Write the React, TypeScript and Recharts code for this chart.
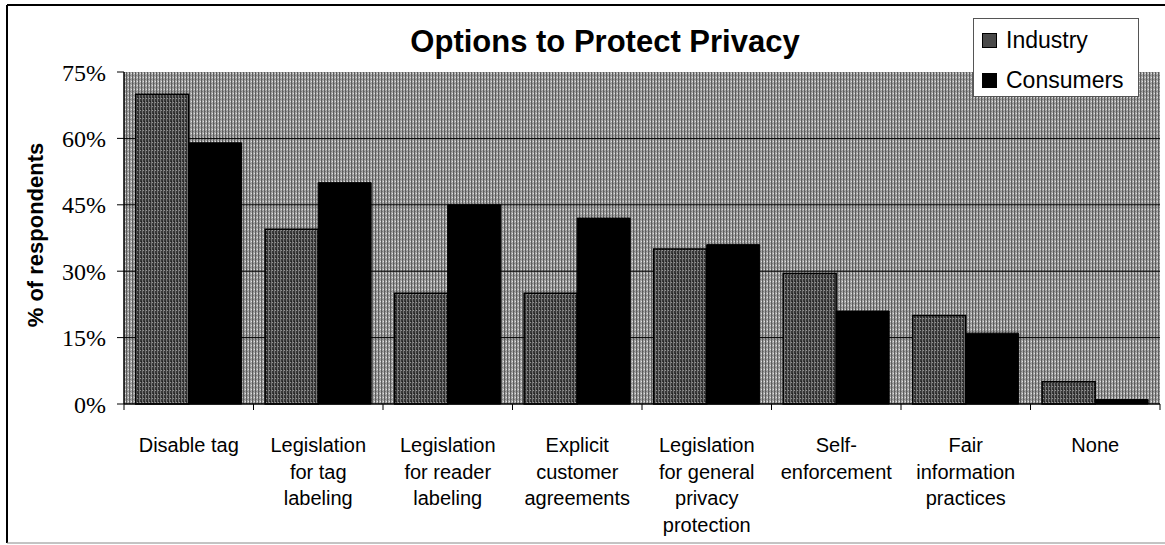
import React from 'react';
import { BarChart, Bar, XAxis, YAxis, CartesianGrid, Legend } from 'recharts';

// Survey categories (line breaks mark the wrapped tick label rows)
const categories = [
  'Disable tag',
  'Legislation\nfor tag\nlabeling',
  'Legislation\nfor reader\nlabeling',
  'Explicit\ncustomer\nagreements',
  'Legislation\nfor general\nprivacy\nprotection',
  'Self-\nenforcement',
  'Fair\ninformation\npractices',
  'None',
];

// Share of respondents (%) choosing each option
const industry = [70, 39.5, 25, 25, 35, 29.5, 20, 5];
const consumers = [59, 50, 45, 42, 36, 21, 16, 1];

const seriesNames = ['Industry', 'Consumers'];

const yTicks = [0, 15, 30, 45, 60, 75];
const gridValues = [15, 30, 45, 60];

const data = categories.map((name, i) => ({
  name,
  Industry: industry[i],
  Consumers: consumers[i],
}));

const W = 1165;
const H = 545;
const SANS = 'Arial, "Liberation Sans", Helvetica, sans-serif';
const SERIF = '"Times New Roman", "Liberation Serif", serif';

const INDUSTRY_FILL = 'url(#industryTexture)';
const CONSUMER_FILL = '#000000';
const PLOT_FILL = 'url(#plotTexture)';

// Halftone-like fills for the plot area and the industry bars
const Textures = () => (
  <svg width={0} height={0} style={{ position: 'absolute' }}>
    <defs>
      <pattern id="plotTexture" width={3} height={4} patternUnits="userSpaceOnUse">
        <rect width={3} height={4} fill="#a6a6a6" />
        <rect x={0} y={0} width={1} height={4} fill="#5c5c5c" />
        <rect x={2} y={1} width={1} height={1} fill="#e0e0e0" />
        <rect x={1} y={3} width={1} height={1} fill="#7a7a7a" />
      </pattern>
      <pattern id="industryTexture" width={3} height={4} patternUnits="userSpaceOnUse">
        <rect width={3} height={4} fill="#383838" />
        <rect x={1} y={0} width={1} height={4} fill="#747474" />
        <rect x={2} y={2} width={1} height={1} fill="#959595" />
        <rect x={0} y={1} width={1} height={1} fill="#202020" />
      </pattern>
    </defs>
  </svg>
);

// Category label with boundary tick marks (ticks sit between categories)
const CategoryTick = (props: any) => {
  const { x, y, payload, index } = props;
  const half = payload && typeof payload.offset === 'number' ? payload.offset : 0;
  const lines = String(payload.value).split('\n');
  return (
    <g>
      <line x1={x - half} x2={x - half} y1={y} y2={y + 6} stroke="#000" strokeWidth={1} />
      {index === categories.length - 1 && (
        <line x1={x + half} x2={x + half} y1={y} y2={y + 6} stroke="#000" strokeWidth={1} />
      )}
      <text x={x} y={y} textAnchor="middle" fontFamily={SANS} fontSize={20} fill="#000">
        {lines.map((l, i) => (
          <tspan key={i} x={x} dy={i === 0 ? 48 : 26.5}>
            {l}
          </tspan>
        ))}
      </text>
    </g>
  );
};

const LegendBox = (props: any) => {
  const items = [...(props.payload || [])].sort(
    (a: any, b: any) => seriesNames.indexOf(a.value) - seriesNames.indexOf(b.value)
  );
  return (
    <div
      style={{
        width: 164,
        height: 77,
        background: '#fff',
        border: '1px solid #555',
        position: 'relative',
        fontFamily: SANS,
        fontSize: 23,
        color: '#000',
      }}
    >
      {items.map((it: any, i: number) => (
        <div
          key={it.value}
          style={{
            position: 'absolute',
            left: 8,
            top: 6 + i * 40,
            height: 30,
            display: 'flex',
            alignItems: 'center',
            whiteSpace: 'nowrap',
          }}
        >
          <span
            style={{
              display: 'inline-block',
              width: 13,
              height: 13,
              background: it.value === 'Industry' ? '#4a4a4a' : '#000',
              border: '1px solid #000',
              marginRight: 9,
            }}
          />
          <span>{it.value}</span>
        </div>
      ))}
    </div>
  );
};

const AxisTitle = () => (
  <text
    transform="translate(43,235) rotate(-90)"
    textAnchor="middle"
    fontFamily={SANS}
    fontWeight="bold"
    fontSize={22}
    fill="#000"
  >
    % of respondents
  </text>
);

export default function App() {
  return (
    <div style={{ position: 'absolute', left: 0, top: 0, width: W, height: H, background: '#fff' }}>
      <Textures />
      <BarChart
        width={W}
        height={H}
        data={data}
        margin={{ top: 72, right: 5, bottom: 0, left: 0 }}
        barCategoryGap="9%"
        barGap={0}
      >
        <CartesianGrid
          vertical={false}
          horizontalValues={gridValues}
          stroke="#000"
          strokeWidth={1}
          fill={PLOT_FILL}
          fillOpacity={1}
        />
        <XAxis
          dataKey="name"
          interval={0}
          height={141}
          tickLine={false}
          tickSize={0}
          tickMargin={0}
          axisLine={{ stroke: '#000', strokeWidth: 1.5 }}
          tick={<CategoryTick />}
        />
        <YAxis
          width={124}
          domain={[0, 75]}
          ticks={yTicks}
          tickFormatter={(v: number) => `${v}%`}
          tickSize={7}
          tickMargin={11}
          axisLine={{ stroke: '#000', strokeWidth: 1.5 }}
          tickLine={{ stroke: '#000' }}
          tick={{ fontFamily: SERIF, fontSize: 24, fill: '#000' }}
          label={{ content: () => <AxisTitle /> }}
        />
        <Legend
          layout="vertical"
          align="center"
          verticalAlign="middle"
          content={<LegendBox />}
          wrapperStyle={{ position: 'absolute', left: 973, top: 18, width: 166, height: 79 }}
        />
        <Bar dataKey="Industry" fill={INDUSTRY_FILL} stroke="#000" strokeWidth={1.5} isAnimationActive={false} />
        <Bar dataKey="Consumers" fill={CONSUMER_FILL} stroke="#000" strokeWidth={1} isAnimationActive={false} />
      </BarChart>
      <svg
        width={W}
        height={H}
        style={{ position: 'absolute', left: 0, top: 0, pointerEvents: 'none' }}
      >
        <line x1={7} y1={5} x2={W} y2={5} stroke="#000" strokeWidth={2} />
        <line x1={7} y1={5} x2={7} y2={543} stroke="#000" strokeWidth={2} />
        <line x1={7} y1={543} x2={W} y2={543} stroke="#888" strokeWidth={1} />
        <text x={605} y={52} textAnchor="middle" fontFamily={SANS} fontWeight="bold" fontSize={31} fill="#000">
          Options to Protect Privacy
        </text>
      </svg>
    </div>
  );
}
